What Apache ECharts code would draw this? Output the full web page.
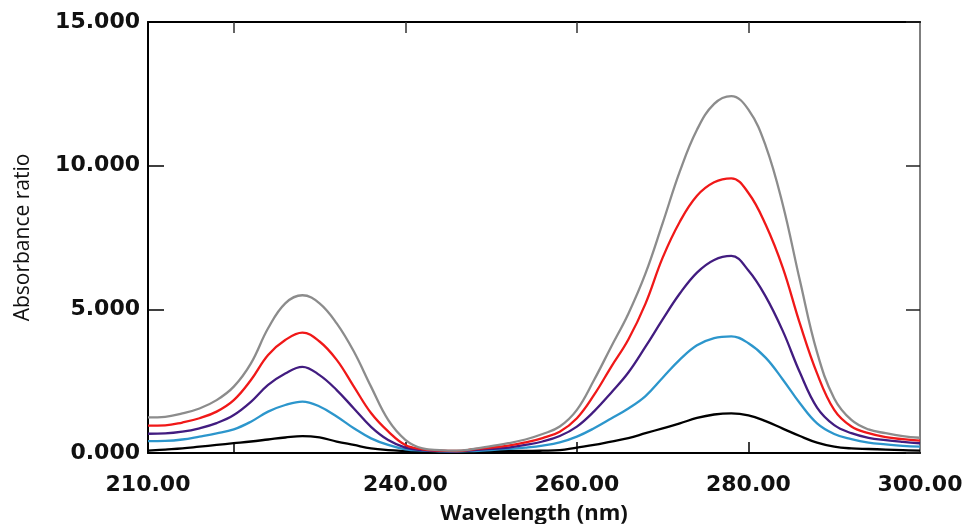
<!DOCTYPE html>
<html>
<head>
<meta charset="utf-8">
<script src="https://cdn.jsdelivr.net/npm/echarts@6/dist/echarts.min.js"></script>
<style>
  html, body { margin: 0; padding: 0; background: #fff; }
  #chart { width: 965px; height: 524px; }
</style>
</head>
<body>
<div id="chart"></div>
<script>
// wavelength (nm), every 2 nm
const wavelengths = [210,212,214,216,218,220,222,224,226,228,230,232,234,236,238,240,242,244,246,248,250,252,254,256,258,260,262,264,266,268,270,272,274,276,278,280,282,284,286,288,290,292,294,296,298,300];

// absorbance ratio, one array per trace (bottom to top)
const blackVals  = [0.08,0.12,0.16,0.22,0.28,0.34,0.40,0.47,0.54,0.59,0.54,0.40,0.28,0.16,0.10,0.07,0.05,0.05,0.05,0.05,0.06,0.07,0.07,0.08,0.10,0.19,0.28,0.40,0.52,0.69,0.86,1.03,1.22,1.34,1.38,1.31,1.11,0.85,0.59,0.36,0.22,0.16,0.14,0.12,0.10,0.08];
const blueVals   = [0.41,0.42,0.47,0.57,0.68,0.82,1.09,1.44,1.67,1.79,1.62,1.27,0.86,0.51,0.28,0.13,0.08,0.06,0.05,0.07,0.10,0.14,0.19,0.26,0.37,0.57,0.86,1.20,1.55,1.98,2.62,3.25,3.75,4.00,4.06,3.82,3.32,2.56,1.73,1.03,0.66,0.48,0.36,0.30,0.25,0.22];
const purpleVals = [0.67,0.68,0.74,0.86,1.04,1.32,1.78,2.37,2.77,3.00,2.71,2.19,1.55,0.91,0.45,0.19,0.10,0.07,0.06,0.10,0.14,0.19,0.28,0.40,0.59,0.92,1.45,2.10,2.80,3.70,4.65,5.55,6.28,6.72,6.86,6.35,5.45,4.25,2.80,1.58,0.97,0.69,0.53,0.45,0.39,0.34];
const redVals    = [0.95,0.96,1.06,1.21,1.44,1.84,2.54,3.41,3.93,4.19,3.88,3.24,2.31,1.39,0.75,0.28,0.13,0.08,0.07,0.13,0.19,0.26,0.37,0.52,0.74,1.21,2.02,3.00,3.95,5.20,6.80,8.05,8.95,9.42,9.56,9.05,7.95,6.45,4.50,2.77,1.50,0.92,0.69,0.55,0.48,0.43];
const grayVals   = [1.24,1.26,1.38,1.55,1.84,2.31,3.12,4.34,5.21,5.49,5.21,4.51,3.53,2.31,1.15,0.46,0.16,0.10,0.08,0.14,0.24,0.34,0.47,0.66,0.92,1.50,2.54,3.70,4.85,6.25,8.00,9.80,11.25,12.15,12.42,11.95,10.70,8.65,6.00,3.50,1.90,1.15,0.82,0.69,0.59,0.53];

const xLabelValues = [210, 240, 260, 280, 300];
const xTickValues = [220, 240, 260, 280];

const traces = [
  { name: 'S1', color: '#000000', vals: blackVals },
  { name: 'S2', color: '#2c96cc', vals: blueVals },
  { name: 'S3', color: '#421c80', vals: purpleVals },
  { name: 'S4', color: '#f01818', vals: redVals },
  { name: 'S5', color: '#8c8c8c', vals: grayVals }
];

function pairs(vals) {
  return wavelengths.map((w, i) => [w, vals[i]]);
}

const labelFont = {
  color: '#111',
  fontFamily: 'DejaVu Sans',
  fontWeight: 'bold',
  fontSize: 22
};

let myChart = echarts.init(document.getElementById('chart'));
myChart.setOption({
  animation: false,
  grid: {
    left: 148,
    right: 45,
    top: 22,
    bottom: 71,
    containLabel: false,
    outerBoundsMode: 'none'
  },
  xAxis: [
    {
      type: 'value',
      min: 210,
      max: 300,
      position: 'bottom',
      name: 'Wavelength (nm)',
      nameLocation: 'middle',
      nameGap: 50,
      nameTextStyle: {
        color: '#111',
        fontFamily: 'Open Sans',
        fontWeight: 'bold',
        fontSize: 22
      },
      axisLine: { onZero: false, lineStyle: { color: '#000', width: 2 } },
      axisTick: {
        inside: true,
        length: 11,
        customValues: xTickValues,
        lineStyle: { color: '#000', width: 1.5 }
      },
      axisLabel: Object.assign({
        margin: 21,
        customValues: xLabelValues,
        formatter: v => v.toFixed(2)
      }, labelFont),
      splitLine: { show: false }
    },
    {
      type: 'value',
      min: 210,
      max: 300,
      position: 'top',
      axisLine: { onZero: false, lineStyle: { color: '#000', width: 2 } },
      axisTick: {
        inside: true,
        length: 11,
        customValues: xTickValues,
        lineStyle: { color: '#333', width: 1.5 }
      },
      axisLabel: { show: false },
      splitLine: { show: false }
    }
  ],
  yAxis: [
    {
      type: 'value',
      min: 0,
      max: 15,
      interval: 5,
      position: 'left',
      name: 'Absorbance ratio',
      nameLocation: 'middle',
      nameRotate: 90,
      nameGap: 114,
      nameTextStyle: {
        color: '#111',
        fontFamily: 'Open Sans',
        fontSize: 21
      },
      axisLine: { show: true, onZero: false, lineStyle: { color: '#000', width: 2 } },
      axisTick: {
        show: true,
        inside: true,
        length: 16,
        lineStyle: { color: '#000', width: 1.5 }
      },
      axisLabel: Object.assign({
        margin: 8,
        formatter: v => v.toFixed(3)
      }, labelFont),
      splitLine: { show: false }
    },
    {
      type: 'value',
      min: 0,
      max: 15,
      interval: 5,
      position: 'right',
      axisLine: { show: true, onZero: false, lineStyle: { color: '#555', width: 1.5 } },
      axisTick: {
        show: true,
        inside: true,
        length: 14,
        lineStyle: { color: '#222', width: 1.5 }
      },
      axisLabel: { show: false },
      splitLine: { show: false }
    }
  ],
  series: traces.map(t => ({
    name: t.name,
    type: 'line',
    data: pairs(t.vals),
    smooth: 0.4,
    showSymbol: false,
    lineStyle: { color: t.color, width: 2.3 },
    itemStyle: { color: t.color }
  }))
});
</script>
</body>
</html>
